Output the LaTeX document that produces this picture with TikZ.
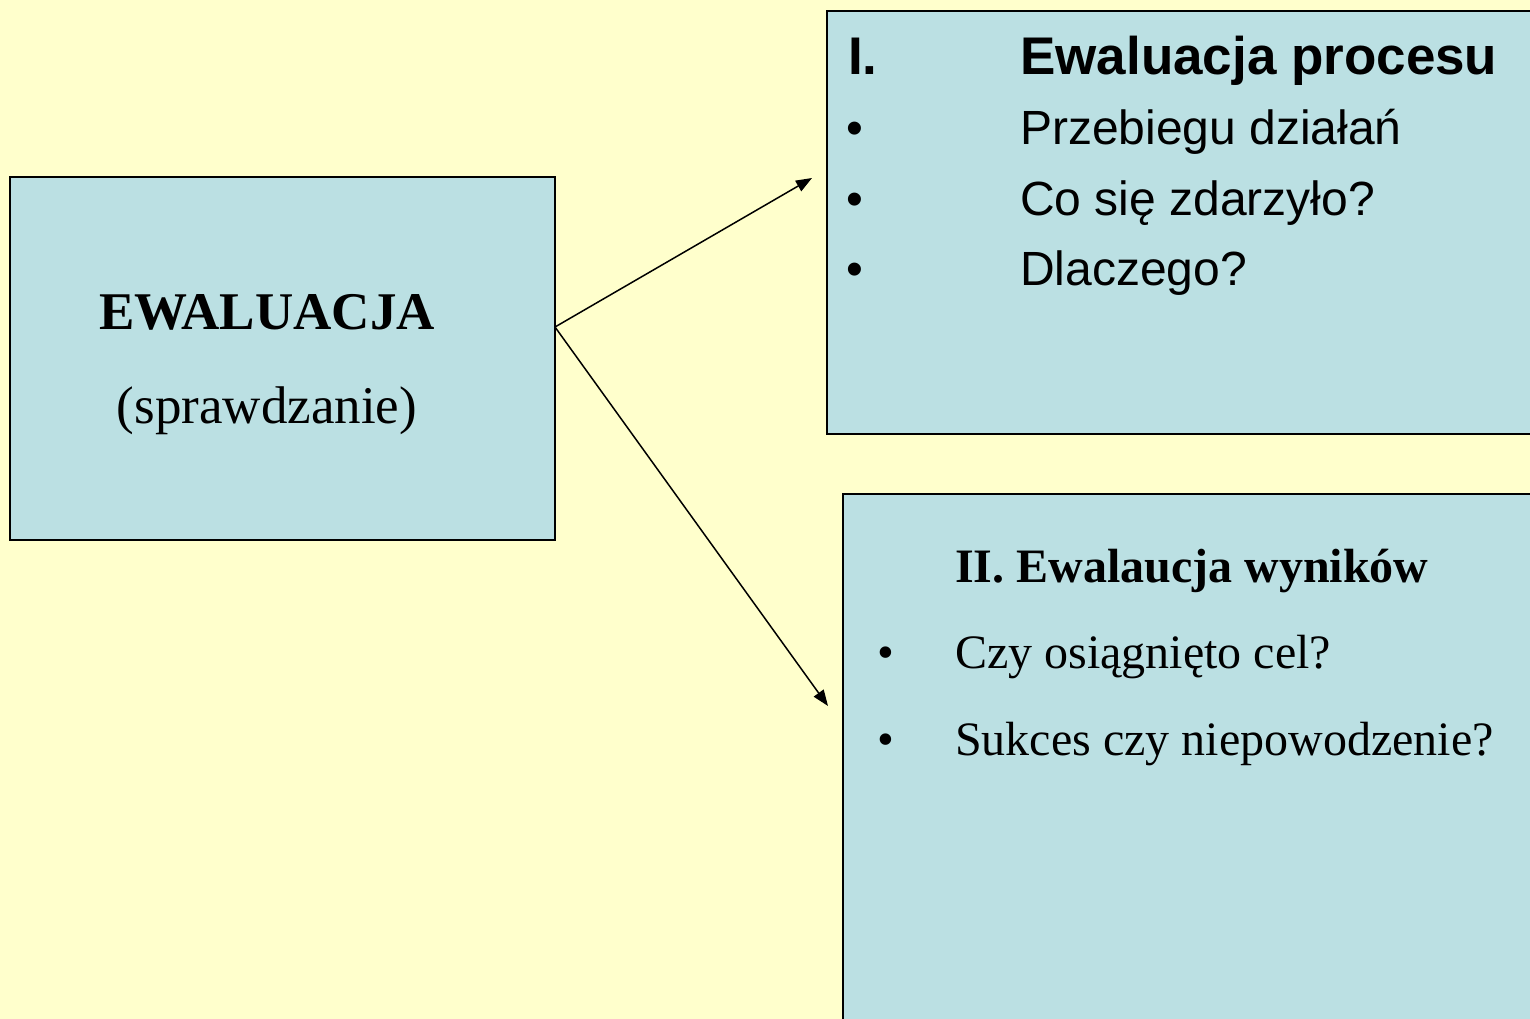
\documentclass[tikz,border=0pt]{standalone}
\usepackage{fontspec}
\setmainfont{Liberation Serif}
\newfontfamily\arialf{Liberation Sans}
\usetikzlibrary{arrows.meta}
\definecolor{bgyellow}{HTML}{FFFFCC}
\definecolor{boxblue}{HTML}{BBE0E3}
\tikzset{
  panel/.style={draw=black, fill=boxblue, line width=1.5pt, rectangle, inner sep=0pt},
  txt/.style={anchor=base west, inner sep=0pt, text=black},
  ctxt/.style={anchor=base, inner sep=0pt, text=black},
  conn/.style={line width=1.5pt, -{Triangle[length=16pt,width=12pt]}}
}
\newcommand{\serifL}{\fontsize{53}{60}\selectfont}
\newcommand{\serifM}{\fontsize{48}{56}\selectfont}
\newcommand{\sansL}{\arialf\bfseries\fontsize{53}{60}\selectfont}
\newcommand{\sansM}{\arialf\fontsize{48}{56}\selectfont}
\begin{document}
\begin{tikzpicture}[x=1pt,y=-1pt]
\useasboundingbox (0,0) rectangle (1530,1019);
\clip (0,0) rectangle (1530,1019);
\fill[bgyellow] (0,0) rectangle (1530,1019);
% boxes
\node[panel, minimum width=545pt, minimum height=363pt] (left) at (282.5,358.5) {};
\node[panel, minimum width=720pt, minimum height=423pt] (top) at (1187,222.5) {};
\node[panel, minimum width=710pt, minimum height=560pt] (bot) at (1198,774) {};
% left text
\node[ctxt] (t1) at (267,329) {\serifL\bfseries EWALUACJA};
\node[ctxt] (t2) at (267,423) {\serifL (sprawdzanie)};
% top box text
\node[txt] (h1a) at (848,75) {\sansL I.};
\node[txt] (h1b) at (1020,75) {\sansL Ewaluacja procesu};
\node[txt] (b1) at (846,145) {\sansM •};
\node[txt] (l1) at (1020,145) {\sansM Przebiegu działań};
\node[txt] (b2) at (846,215) {\sansM •};
\node[txt] (l2) at (1020,215) {\sansM Co się zdarzyło?};
\node[txt] (b3) at (846,285) {\sansM •};
\node[txt] (l3) at (1020,285) {\sansM Dlaczego?};
% bottom box text
\node[txt] (h2) at (955,582) {\serifM\bfseries II. Ewalaucja wyników};
\node[txt] (b4) at (877,668) {\serifM •};
\node[txt] (l4) at (955,668) {\serifM Czy osiągnięto cel?};
\node[txt] (b5) at (877,755) {\serifM •};
\node[txt] (l5) at (955,755) {\serifM Sukces czy niepowodzenie?};
% connectors
\coordinate (src) at (555,327);
\coordinate (e1) at (812,178);
\coordinate (e2) at (828,706);
\draw[conn] (src) -- (e1);
\draw[conn] (src) -- (e2);
\end{tikzpicture}
\end{document}
